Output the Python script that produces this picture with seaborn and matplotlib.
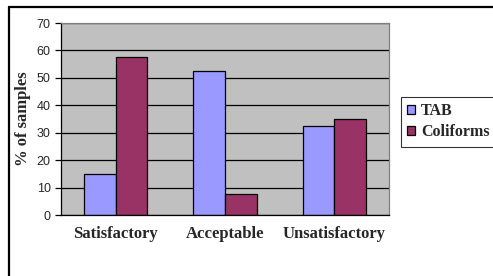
import pandas as pd
import seaborn as sns
import matplotlib.pyplot as plt
from matplotlib.lines import Line2D

categories = ['Satisfactory', 'Acceptable', 'Unsatisfactory']
tab = [15, 52.5, 32.5]
coliforms = [57.5, 7.5, 35]
series_names = ['TAB', 'Coliforms']
colors = ['#9999FF', '#993366']

df = pd.DataFrame({
    'category': categories * 2,
    'value': tab + coliforms,
    'series': [series_names[0]] * 3 + [series_names[1]] * 3,
})

sns.set_style('white')
fig = plt.figure(figsize=(4.93, 2.76), dpi=100)
fig.patch.set_linewidth(0)
ax = fig.add_axes([61 / 493, 1 - 215 / 276, 328 / 493, 192 / 276])
ax.set_facecolor('#C0C0C0')

sns.barplot(data=df, x='category', y='value', hue='series', palette=colors,
            saturation=1, edgecolor='black', linewidth=0.9, width=0.58, ax=ax)

ax.set_ylim(0, 70)
ax.set_xlim(-0.5, 2.5)
ax.set_yticks(range(0, 71, 10))
ax.yaxis.grid(True, color='black', linewidth=0.9)
ax.set_axisbelow(True)

for side in ['top', 'right']:
    ax.spines[side].set_color('#808080')
    ax.spines[side].set_linewidth(0.9)
for side in ['left', 'bottom']:
    ax.spines[side].set_color('black')
    ax.spines[side].set_linewidth(0.9)

# tick marks between categories, as in the excel chart
ax.set_xticks([-0.5, 0.5, 1.5, 2.5], minor=True)
ax.tick_params(axis='x', which='minor', length=4, width=0.9, color='black', direction='out')
ax.tick_params(axis='x', which='major', length=0, pad=8)
ax.tick_params(axis='y', length=4.5, width=0.9, color='black', direction='out', pad=3, left=True)

for lab in ax.get_xticklabels():
    lab.set_fontfamily('Liberation Serif')
    lab.set_fontweight('bold')
    lab.set_fontsize(12)
for lab in ax.get_yticklabels():
    lab.set_fontfamily('Liberation Sans')
    lab.set_fontsize(9)

ax.set_xlabel('')
ax.set_ylabel('% of samples', fontfamily='Liberation Serif', fontweight='bold',
              fontsize=12, labelpad=4)

handles, labels = ax.get_legend_handles_labels()
ax.legend_.remove()
leg = fig.legend(handles, labels, loc='upper left',
                 bbox_to_anchor=(401 / 493, 1 - 97 / 276),
                 prop={'family': 'Liberation Serif', 'weight': 'bold', 'size': 11.5},
                 frameon=True, fancybox=False, edgecolor='black',
                 handlelength=0.5, handleheight=0.5, handletextpad=0.35,
                 borderpad=0.4, labelspacing=0.3, borderaxespad=0)
leg.get_frame().set_linewidth(0.8)

# outer chart border (only top and left are inside the image)
top_y = 1 - 7 / 276
left_x = 9 / 493
fig.add_artist(Line2D([left_x, 1.05], [top_y, top_y], color='black', linewidth=1.6,
                      transform=fig.transFigure))
fig.add_artist(Line2D([left_x, left_x], [-0.05, top_y], color='black', linewidth=1.6,
                      transform=fig.transFigure))

fig.savefig('out.png', dpi=100)
